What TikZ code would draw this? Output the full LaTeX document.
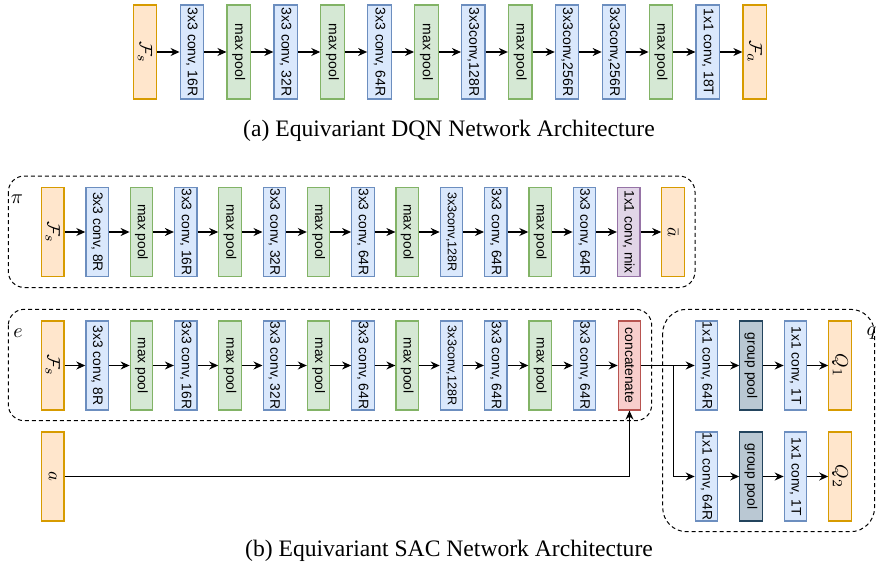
\documentclass[tikz,border=0pt]{standalone}
\usepackage[no-math]{fontspec}
\setmainfont{Liberation Serif}
\setsansfont{Liberation Sans}
\usetikzlibrary{arrows.meta}

\definecolor{featfill}{HTML}{FFE6CC}
\definecolor{featline}{HTML}{D79B00}
\definecolor{convfill}{HTML}{DAE8FC}
\definecolor{convline}{HTML}{6C8EBF}
\definecolor{poolfill}{HTML}{D5E8D4}
\definecolor{poolline}{HTML}{82B366}
\definecolor{mixfill}{HTML}{E1D5E7}
\definecolor{mixline}{HTML}{9673A6}
\definecolor{catfill}{HTML}{F8CECC}
\definecolor{catline}{HTML}{B85450}
\definecolor{gpfill}{HTML}{BAC8D3}
\definecolor{gpline}{HTML}{23445D}

\tikzstyle{feat} = [rectangle, draw=featline, fill=featfill, rotate=-90, line width=0.6pt,
    minimum width=47pt, minimum height=11.75pt, inner sep=0pt, font=\fontsize{9.5}{10}\selectfont]
\tikzstyle{conv} = [rectangle, draw=convline, fill=convfill, rotate=-90, line width=0.6pt,
    minimum width=47pt, minimum height=11.75pt, inner sep=0pt, font=\sffamily\fontsize{7}{8}\selectfont]
\tikzstyle{pool} = [rectangle, draw=poolline, fill=poolfill, rotate=-90, line width=0.6pt,
    minimum width=47pt, minimum height=11.75pt, inner sep=0pt, font=\sffamily\fontsize{7}{8}\selectfont]
\tikzstyle{featd} = [rectangle, draw=featline, fill=featfill, rotate=-90, line width=0.6pt,
    minimum width=44.5pt, minimum height=11.2pt, inner sep=0pt, font=\fontsize{9.5}{10}\selectfont]
\tikzstyle{convd} = [rectangle, draw=convline, fill=convfill, rotate=-90, line width=0.6pt,
    minimum width=44.5pt, minimum height=11.2pt, inner sep=0pt, font=\sffamily\fontsize{6.9}{8}\selectfont]
\tikzstyle{convdd} = [rectangle, draw=convline, fill=convfill, rotate=-90, line width=0.6pt,
    minimum width=44.5pt, minimum height=11.2pt, inner sep=0pt, font=\sffamily\fontsize{6.3}{7}\selectfont]
\tikzstyle{poold} = [rectangle, draw=poolline, fill=poolfill, rotate=-90, line width=0.6pt,
    minimum width=44.5pt, minimum height=11.2pt, inner sep=0pt, font=\sffamily\fontsize{6.9}{8}\selectfont]
\tikzstyle{mixd} = [rectangle, draw=mixline, fill=mixfill, rotate=-90, line width=0.6pt,
    minimum width=44.5pt, minimum height=11.2pt, inner sep=0pt, font=\sffamily\fontsize{6.9}{8}\selectfont]
\tikzstyle{catd} = [rectangle, draw=catline, fill=catfill, rotate=-90, line width=0.6pt,
    minimum width=44.5pt, minimum height=11.2pt, inner sep=0pt, font=\sffamily\fontsize{6.9}{8}\selectfont]
\tikzstyle{gpoold} = [rectangle, draw=gpline, fill=gpfill, rotate=-90, line width=0.6pt,
    minimum width=44.5pt, minimum height=11.2pt, inner sep=0pt, font=\sffamily\fontsize{6.9}{8}\selectfont]
\tikzstyle{flow} = [-{Stealth[length=4.5pt,width=4pt]}, line width=0.6pt]
\tikzstyle{group} = [draw, line width=0.5pt, dash pattern=on 2pt off 1.5pt]
\tikzstyle{caption} = [font=\fontsize{11.8}{14}\selectfont]

\begin{document}
\begin{tikzpicture}[x=0.5pt, y=-0.5pt]
	\useasboundingbox (0,0) rectangle (876,567);
	% (a) DQN
	\node [feat] (dfs) at (145.0,52) {$\mathcal{F}_s$};
	\node [conv] (dc1) at (191.9,52) {3x3 conv, 16R};
	\node [pool] (dp1) at (238.8,52) {max pool};
	\node [conv] (dc2) at (285.7,52) {3x3 conv, 32R};
	\node [pool] (dp2) at (332.6,52) {max pool};
	\node [conv] (dc3) at (379.5,52) {3x3 conv, 64R};
	\node [pool] (dp3) at (426.4,52) {max pool};
	\node [conv] (dc4) at (473.3,52) {3x3conv,128R};
	\node [pool] (dp4) at (520.2,52) {max pool};
	\node [conv] (dc5) at (567.1,52) {3x3conv,256R};
	\node [conv] (dc6) at (614.0,52) {3x3conv,256R};
	\node [pool] (dp5) at (660.9,52) {max pool};
	\node [conv] (dc7) at (707.8,52) {1x1 conv, 18T};
	\node [feat] (dfa) at (754.7,52) {$\mathcal{F}_a$};
	\draw [flow] (dfs) -- (dc1);
	\draw [flow] (dc1) -- (dp1);
	\draw [flow] (dp1) -- (dc2);
	\draw [flow] (dc2) -- (dp2);
	\draw [flow] (dp2) -- (dc3);
	\draw [flow] (dc3) -- (dp3);
	\draw [flow] (dp3) -- (dc4);
	\draw [flow] (dc4) -- (dp4);
	\draw [flow] (dp4) -- (dc5);
	\draw [flow] (dc5) -- (dc6);
	\draw [flow] (dc6) -- (dp5);
	\draw [flow] (dp5) -- (dc7);
	\draw [flow] (dc7) -- (dfa);
	\node [caption] (capa) at (449,131) {(a) Equivariant DQN Network Architecture};
	%
	% (b) SAC, actor
	\draw [group, rounded corners=8pt] (8.3,176) rectangle (695,287.5);
	\node (pilabel) at (17,199) {$\pi$};
	\node [featd] (pfs) at (52.8,232) {$\mathcal{F}_s$};
	\node [convd] (pc1) at (97.1,232) {3x3 conv, 8R};
	\node [poold] (pp1) at (141.4,232) {max pool};
	\node [convd] (pc2) at (185.7,232) {3x3 conv, 16R};
	\node [poold] (pp2) at (230.0,232) {max pool};
	\node [convd] (pc3) at (274.3,232) {3x3 conv, 32R};
	\node [poold] (pp3) at (318.6,232) {max pool};
	\node [convd] (pc4) at (362.9,232) {3x3 conv, 64R};
	\node [poold] (pp4) at (407.2,232) {max pool};
	\node [convdd] (pc5) at (451.5,232) {3x3conv,128R};
	\node [convd] (pc6) at (495.8,232) {3x3 conv, 64R};
	\node [poold] (pp5) at (540.1,232) {max pool};
	\node [convd] (pc7) at (584.4,232) {3x3 conv, 64R};
	\node [mixd] (pmix) at (628.7,232) {1x1 conv, mix};
	\node [featd] (pa) at (673.0,232) {$\bar{a}$};
	\draw [flow] (pfs) -- (pc1);
	\draw [flow] (pc1) -- (pp1);
	\draw [flow] (pp1) -- (pc2);
	\draw [flow] (pc2) -- (pp2);
	\draw [flow] (pp2) -- (pc3);
	\draw [flow] (pc3) -- (pp3);
	\draw [flow] (pp3) -- (pc4);
	\draw [flow] (pc4) -- (pp4);
	\draw [flow] (pp4) -- (pc5);
	\draw [flow] (pc5) -- (pc6);
	\draw [flow] (pc6) -- (pp5);
	\draw [flow] (pp5) -- (pc7);
	\draw [flow] (pc7) -- (pmix);
	\draw [flow] (pmix) -- (pa);
	%
	% (b) SAC, critic encoder
	\draw [group, rounded corners=8pt] (8.3,309.3) rectangle (651.7,420.7);
	\node (elabel) at (18,333) {$e$};
	\node [featd] (efs) at (52.8,365.5) {$\mathcal{F}_s$};
	\node [convd] (ec1) at (97.1,365.5) {3x3 conv, 8R};
	\node [poold] (ep1) at (141.4,365.5) {max pool};
	\node [convd] (ec2) at (185.7,365.5) {3x3 conv, 16R};
	\node [poold] (ep2) at (230.0,365.5) {max pool};
	\node [convd] (ec3) at (274.3,365.5) {3x3 conv, 32R};
	\node [poold] (ep3) at (318.6,365.5) {max pool};
	\node [convd] (ec4) at (362.9,365.5) {3x3 conv, 64R};
	\node [poold] (ep4) at (407.2,365.5) {max pool};
	\node [convdd] (ec5) at (451.5,365.5) {3x3conv,128R};
	\node [convd] (ec6) at (495.8,365.5) {3x3 conv, 64R};
	\node [poold] (ep5) at (540.1,365.5) {max pool};
	\node [convd] (ec7) at (584.4,365.5) {3x3 conv, 64R};
	\node [catd] (ecat) at (629.5,365.5) {concatenate};
	\node [featd] (ain) at (52.8,476.5) {$a$};
	\draw [flow] (efs) -- (ec1);
	\draw [flow] (ec1) -- (ep1);
	\draw [flow] (ep1) -- (ec2);
	\draw [flow] (ec2) -- (ep2);
	\draw [flow] (ep2) -- (ec3);
	\draw [flow] (ec3) -- (ep3);
	\draw [flow] (ep3) -- (ec4);
	\draw [flow] (ec4) -- (ep4);
	\draw [flow] (ep4) -- (ec5);
	\draw [flow] (ec5) -- (ec6);
	\draw [flow] (ec6) -- (ep5);
	\draw [flow] (ep5) -- (ec7);
	\draw [flow] (ec7) -- (ecat);
	\draw [flow] (ain) -| (ecat);
	%
	% (b) SAC, critic heads
	\draw [group, rounded corners=12pt] (662.7,309.3) rectangle (874.5,531.7);
	\node (qlabel) at (871.5,333) {$q$};
	\node [convd] (qca) at (706.5,365.5) {1x1 conv, 64R};
	\node [gpoold] (qga) at (751.0,365.5) {group pool};
	\node [convd] (qcb) at (795.5,365.5) {1x1 conv, 1T};
	\node [featd] (qqa) at (840.0,365.5) {$Q_1$};
	\node [convd] (qcc) at (706.5,476.5) {1x1 conv, 64R};
	\node [gpoold] (qgb) at (751.0,476.5) {group pool};
	\node [convd] (qcd) at (795.5,476.5) {1x1 conv, 1T};
	\node [featd] (qqb) at (840.0,476.5) {$Q_2$};
	\coordinate (split) at (673.3,365.5);
	\draw [line width=0.6pt] (ecat) -- (split);
	\draw [flow] (split) -- (qca);
	\draw [flow] (split) |- (qcc);
	\draw [flow] (qca) -- (qga);
	\draw [flow] (qga) -- (qcb);
	\draw [flow] (qcb) -- (qqa);
	\draw [flow] (qcc) -- (qgb);
	\draw [flow] (qgb) -- (qcd);
	\draw [flow] (qcd) -- (qqb);
	\node [caption] (capb) at (449,551) {(b) Equivariant SAC Network Architecture};
\end{tikzpicture}
\end{document}
